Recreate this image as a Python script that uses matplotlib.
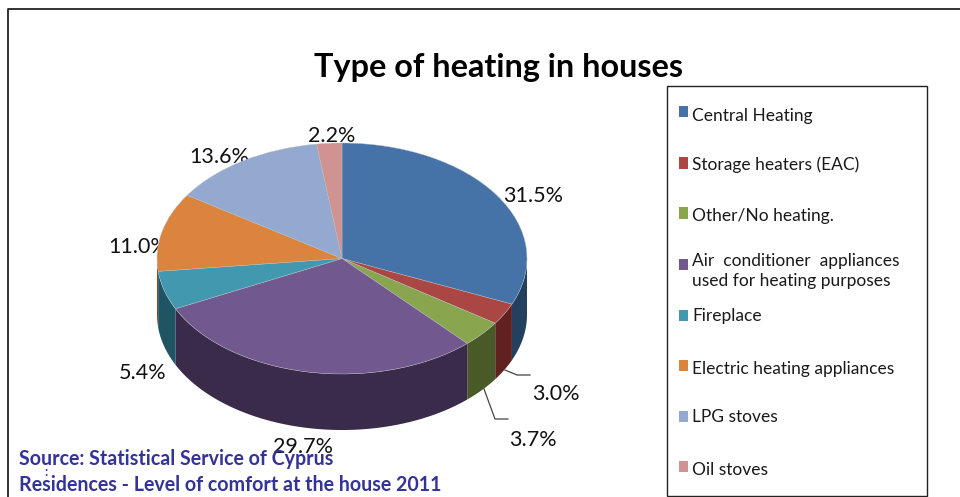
import numpy as np
import matplotlib
matplotlib.use("Agg")
import matplotlib.pyplot as plt
from matplotlib.patches import Rectangle

plt.rcParams["font.family"] = ["Lato", "DejaVu Sans"]

W, H = 960, 497

categories = ["Central Heating", "Storage heaters (EAC)", "Other/No heating.",
              "Air  conditioner  appliances\nused for heating purposes", "Fireplace",
              "Electric heating appliances", "LPG stoves", "Oil stoves"]
shares = [31.5, 3.0, 3.7, 29.7, 5.4, 11.0, 13.6, 2.2]
share_labels = ["31.5%", "3.0%", "3.7%", "29.7%", "5.4%", "11.0%", "13.6%", "2.2%"]
top_colors = ["#4573A7", "#AA4643", "#89A54E", "#71588F", "#4198AF", "#DB843D", "#93A9CF", "#D19392"]
side_colors = ["#23405F", "#5F2220", "#485A28", "#3B2B4A", "#1F5563", "#7D4A20", "#526079", "#775352"]

# pixel positions of the labels, the legend rows and the pie ellipse
label_xy = [(533, 196), (556, 394), (533, 440), (303, 447), (143, 373), (138, 247), (219, 157), (332, 136)]
legend_y = [116, 165, 216, 271, 316, 369, 417, 470]
swatch_y = [112, 163, 213, 264, 315, 365, 416, 466]
CX, CY, RX, RY, DEPTH = 342, 258.5, 185, 115.5, 56


def px(x, y):
    return x / W, 1 - y / H


fig = plt.figure(figsize=(W / 100, H / 100), dpi=100, facecolor="white")
bg = fig.add_axes([0, 0, 1, 1])
bg.set_xlim(0, W)
bg.set_ylim(H, 0)
bg.axis("off")

# outer frame runs off the right and bottom of the picture
bg.plot([8, 8, 960], [497, 9, 9], color="#222222", lw=1.3)

# pie axes: unit circle squashed into the ellipse
ax = fig.add_axes([(CX - RX) / W, 1 - (CY + RY) / H, 2 * RX / W, 2 * RY / H])
wedges, _ = ax.pie(shares, colors=top_colors, startangle=90, counterclock=False, radius=1,
                   wedgeprops={"linewidth": 0.3, "edgecolor": "#B8BCC4"})
ax.set_aspect("auto")
ax.set_xlim(-1, 1)
ax.set_ylim(-1, 1)
ax.axis("off")
for w in wedges:
    w.set_clip_on(False)
    w.set_zorder(3)

# side wall, built from the same slice angles
drop = DEPTH / RY
for w, col in zip(wedges, side_colors):
    a0, a1 = w.theta1 % 360, w.theta2 % 360
    if a1 <= a0:
        a1 += 360
    angles = np.linspace(a0, a1, 200)
    angles = angles[np.sin(np.radians(angles)) <= 0]
    if len(angles) < 2:
        continue
    xs = np.cos(np.radians(angles))
    ys = np.sin(np.radians(angles))
    ax.fill(np.r_[xs, xs[::-1]], np.r_[ys, ys[::-1] - drop], color=col, lw=0, zorder=2, clip_on=False)

for (x, y), text in zip(label_xy, share_labels):
    bg.text(x, y, text, fontsize=15.5, color="#111111", ha="center", va="center", zorder=6)

# leader lines for the two small slices
bg.plot([505, 517, 530], [370, 375, 375], color="#444444", lw=0.9, zorder=6)
bg.plot([484, 495, 508], [389, 419, 419], color="#444444", lw=0.9, zorder=6)

bg.text(498, 68, "Type of heating in houses", fontsize=23.3, fontweight="bold",
        color="black", ha="center", va="center", zorder=6)

# legend box
fig.add_artist(Rectangle(px(666.5, 496), 260.5 / W, 410 / H, transform=fig.transFigure,
                         fc="white", ec="#222222", lw=1, zorder=5))
for name, col, ty, sy in zip(categories, top_colors, legend_y, swatch_y):
    fig.add_artist(Rectangle(px(679, sy + 5.5), 9 / W, 11 / H, transform=fig.transFigure,
                             fc=col, ec="none", zorder=6))
    fig.text(*px(692, ty), name, fontsize=12.5, color="#1a1a1a", va="center", linespacing=1.3, zorder=7)

fig.text(*px(19, 459), "Source: Statistical Service of Cyprus", fontsize=14.1, fontweight="bold",
         color="#333399", va="center", zorder=7)
fig.text(*px(19, 485), "Residences - Level of comfort at the house 2011", fontsize=14.1, fontweight="bold",
         color="#333399", va="center", zorder=7)
fig.text(*px(46, 472), ":", fontsize=9, fontweight="bold", color="#333399", ha="center", va="center", zorder=7)

fig.savefig("out.png", dpi=100)
